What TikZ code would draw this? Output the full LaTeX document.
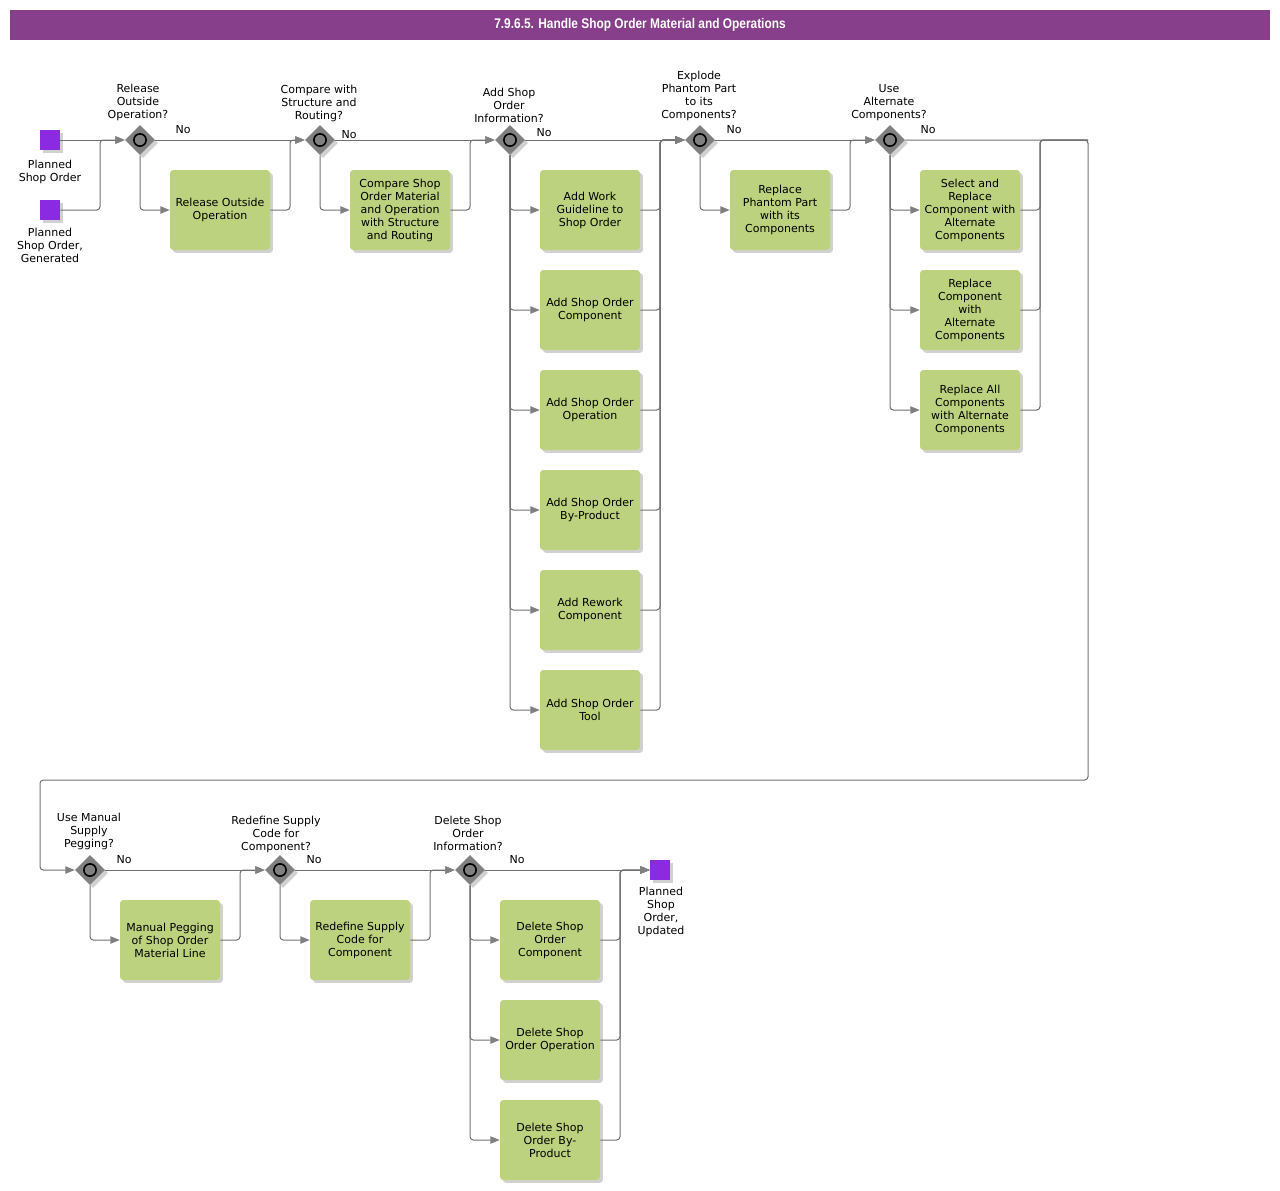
\documentclass[tikz,border=0pt]{standalone}
\usepackage{fontspec}
\setmainfont{DejaVu Sans}
\newfontfamily\titlefont{Liberation Sans}
\usetikzlibrary{shapes.geometric,arrows.meta,shadows}
\definecolor{titlepurple}{RGB}{135,63,139}
\definecolor{evtpurple}{RGB}{138,43,226}
\definecolor{taskgreen}{RGB}{189,210,126}
\definecolor{gategray}{RGB}{128,128,128}
\definecolor{linegray}{RGB}{112,112,112}
\newcommand\dgf{\fontsize{8.25}{9.75}\selectfont}
\begin{document}
\begin{tikzpicture}[x=0.75pt,y=-0.75pt,
  shad/.style={drop shadow={shadow xshift=2.2pt,shadow yshift=-2.2pt,fill=black,opacity=0.18}},
  task/.style={rectangle,rounded corners=2.5pt,fill=taskgreen,minimum width=75pt,minimum height=60pt,
    align=center,font=\dgf,inner sep=1pt,shad},
  gate/.style={diamond,fill=gategray,minimum width=22.5pt,minimum height=22.5pt,inner sep=0pt,shad},
  evt/.style={rectangle,fill=evtpurple,minimum size=15pt,inner sep=0pt,shad},
  lbl/.style={align=center,font=\dgf,inner sep=0pt},
  flow/.style={draw=linegray,line width=0.75pt,rounded corners=2.5pt,
    -{Triangle[length=7pt,width=5.5pt,fill=gategray,color=gategray]}},
  link/.style={draw=linegray,line width=0.75pt,rounded corners=2.5pt},
  ring/.style={draw=black,line width=1.2pt,fill=gategray}
]
\useasboundingbox (0,0) rectangle (1280,1190);
% title
\node (title) [fill=titlepurple,minimum width=945pt,minimum height=22.5pt,inner sep=0pt,
  text=white,font=\titlefont\bfseries\fontsize{10.5}{12}\selectfont] at (640,25)
  {\scalebox{0.85}[1]{7.9.6.5. Handle Shop Order Material and Operations}};

% events
\node[evt] (s1) at (50,140) {};
\node[evt] (s2) at (50,210) {};
\node[evt] (e1) at (660,870) {};
\node[lbl] (s1l) at (50,171.5) {Planned\\Shop Order};
\node[lbl] (s2l) at (50,245) {Planned\\Shop Order,\\Generated};
\node[lbl] (e1l) at (661,911.5) {Planned\\Shop\\Order,\\Updated};

% gateways
\foreach \n/\x/\y in {g1/140/140,g2/320/140,g3/510/140,g4/700/140,g5/890/140,g6/90/870,g7/280/870,g8/470/870}{
  \node[gate] (\n) at (\x,\y) {};
  \draw[ring] (\n.center) circle (4.6pt);
}
\node[lbl] (g1l) at (138,102) {Release\\Outside\\Operation?};
\node[lbl] (g2l) at (319,103) {Compare with\\Structure and\\Routing?};
\node[lbl] (g3l) at (509,105) {Add Shop\\Order\\Information?};
\node[lbl] (g4l) at (699,95.5) {Explode\\Phantom Part\\to its\\Components?};
\node[lbl] (g5l) at (889,103) {Use\\Alternate\\Components?};
\node[lbl] (g6l) at (89,831) {Use Manual\\Supply\\Pegging?};
\node[lbl] (g7l) at (276,834) {Redefine Supply\\Code for\\Component?};
\node[lbl] (g8l) at (468,833) {Delete Shop\\Order\\Information?};

% tasks
\node[task] (t1) at (220,210) {Release Outside\\Operation};
\node[task] (t2) at (400,210) {Compare Shop\\Order Material\\and Operation\\with Structure\\and Routing};
\node[task] (t3a) at (590,210) {Add Work\\Guideline to\\Shop Order};
\node[task] (t3b) at (590,310) {Add Shop Order\\Component};
\node[task] (t3c) at (590,410) {Add Shop Order\\Operation};
\node[task] (t3d) at (590,510) {Add Shop Order\\By-Product};
\node[task] (t3e) at (590,610) {Add Rework\\Component};
\node[task] (t3f) at (590,710) {Add Shop Order\\Tool};
\node[task] (t4) at (780,210) {Replace\\Phantom Part\\with its\\Components};
\node[task] (t5a) at (970,210) {Select and\\Replace\\Component with\\Alternate\\Components};
\node[task] (t5b) at (970,310) {Replace\\Component\\with\\Alternate\\Components};
\node[task] (t5c) at (970,410) {Replace All\\Components\\with Alternate\\Components};
\node[task] (t6) at (170,940) {Manual Pegging\\of Shop Order\\Material Line};
\node[task] (t7) at (360,940) {Redefine Supply\\Code for\\Component};
\node[task] (t8a) at (550,940) {Delete Shop\\Order\\Component};
\node[task] (t8b) at (550,1040) {Delete Shop\\Order Operation};
\node[task] (t8c) at (550,1140) {Delete Shop\\Order By-\\Product};

% junction coordinates
\coordinate (j1) at (100,140);
\coordinate (j2) at (290,140);
\coordinate (j3) at (470,140);
\coordinate (j4) at (660,140);
\coordinate (j5) at (850,140);
\coordinate (j6) at (1040,140);
\coordinate (c1) at (1088,140);
\coordinate (c2) at (1088,780);
\coordinate (c3) at (40,780);
\coordinate (c4) at (40,870);
\coordinate (j7) at (240,870);
\coordinate (j8) at (430,870);
\coordinate (j9) at (620,870);

% connectors row 1
\draw[flow] (s1.east) -- (g1.west);
\draw[flow] (s2.east) -| (j1) -- (g1.west);
\draw[flow] (g1.south) |- (t1.west);
\draw[flow] (g1.east) -- (g2.west);
\draw[flow] (t1.east) -| (j2) -- (g2.west);
\draw[flow] (g2.south) |- (t2.west);
\draw[flow] (g2.east) -- (g3.west);
\draw[flow] (t2.east) -| (j3) -- (g3.west);
\foreach \t in {t3a,t3b,t3c,t3d,t3e,t3f}{
  \draw[flow] (g3.south) |- (\t.west);
  \draw[flow] (\t.east) -| (j4) -- (g4.west);
}
\draw[flow] (g3.east) -- (g4.west);
\draw[flow] (g4.south) |- (t4.west);
\draw[flow] (g4.east) -- (g5.west);
\draw[flow] (t4.east) -| (j5) -- (g5.west);
\foreach \t in {t5a,t5b,t5c}{
  \draw[flow] (g5.south) |- (\t.west);
  \draw[link] (\t.east) -| (j6) -- (c1);
}
\draw[flow] (g5.east) -- (c1) -- (c2) -- (c3) -- (c4) -- (g6.west);
% row 2
\draw[flow] (g6.south) |- (t6.west);
\draw[flow] (g6.east) -- (g7.west);
\draw[flow] (t6.east) -| (j7) -- (g7.west);
\draw[flow] (g7.south) |- (t7.west);
\draw[flow] (g7.east) -- (g8.west);
\draw[flow] (t7.east) -| (j8) -- (g8.west);
\foreach \t in {t8a,t8b,t8c}{
  \draw[flow] (g8.south) |- (\t.west);
  \draw[flow] (\t.east) -| (j9) -- (e1.west);
}
\draw[flow] (g8.east) -- (e1.west);

% "No" labels
\node[lbl] (n1) at (183,130) {No};
\node[lbl] (n2) at (349,135) {No};
\node[lbl] (n3) at (544,133) {No};
\node[lbl] (n4) at (734,130) {No};
\node[lbl] (n5) at (928,130) {No};
\node[lbl] (n6) at (124,860) {No};
\node[lbl] (n7) at (314,860) {No};
\node[lbl] (n8) at (517,860) {No};
\end{tikzpicture}
\end{document}
